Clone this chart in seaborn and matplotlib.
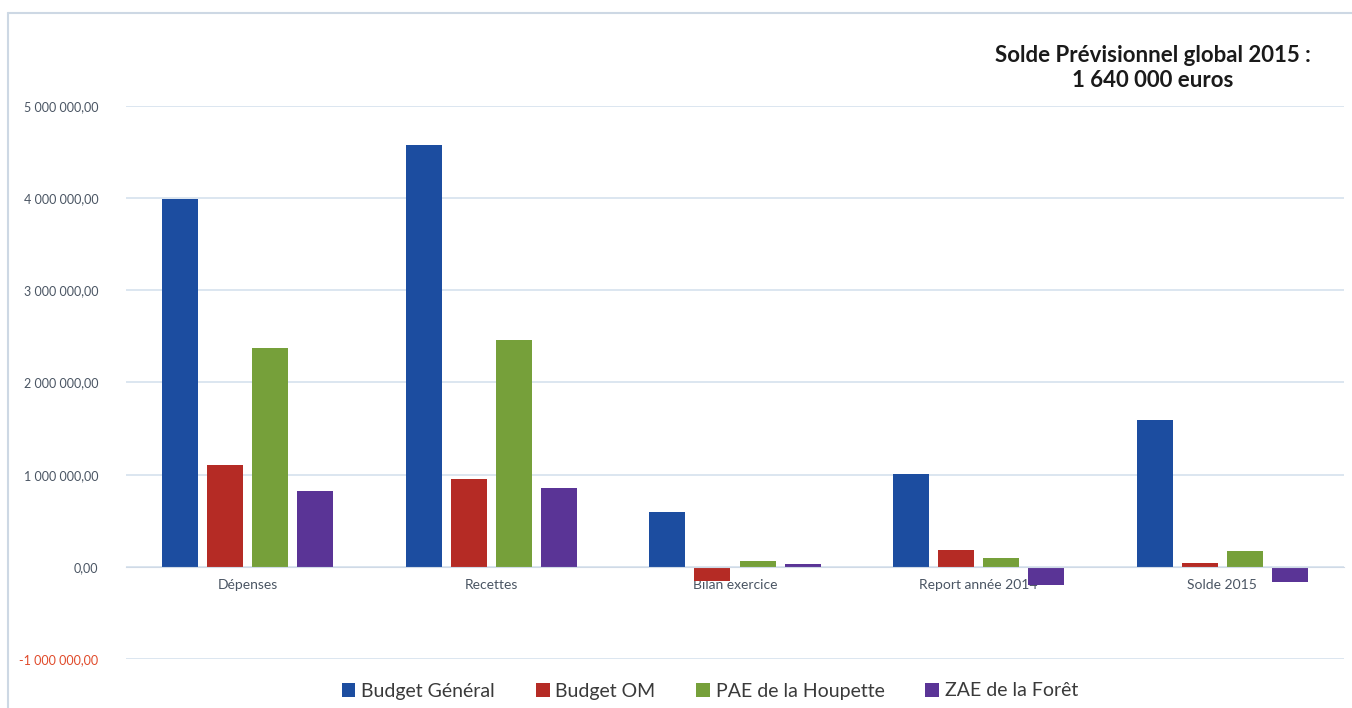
import pandas as pd
import matplotlib
matplotlib.use("Agg")
from matplotlib import pyplot as plt
from matplotlib.lines import Line2D
from matplotlib.ticker import FuncFormatter
import seaborn as sns

categories = ["Dépenses", "Recettes", "Bilan exercice", "Report année 2014", "Solde 2015"]
series = ["Budget Général", "Budget OM", "PAE de la Houpette", "ZAE de la Forêt"]
budget_general = [3990000, 4580000, 600000, 1010000, 1595000]
budget_om = [1110000, 955000, -150000, 185000, 40000]
pae_houpette = [2375000, 2460000, 65000, 100000, 170000]
zae_foret = [820000, 860000, 30000, -195000, -160000]
colors = ["#1c4da0", "#b52b25", "#76a03a", "#5a3496"]

rows = []
for s, vals in zip(series, [budget_general, budget_om, pae_houpette, zae_foret]):
    for c, v in zip(categories, vals):
        rows.append({"cat": c, "serie": s, "val": v})
df = pd.DataFrame(rows)

sns.set_style("white")
plt.rcParams["font.family"] = ["Lato", "DejaVu Sans"]

fig = plt.figure(figsize=(13.52, 7.08), dpi=100)
ax = fig.add_axes([126 / 1352, 1 - 659 / 708, (1344 - 126) / 1352, (659 - 106) / 708])

sns.barplot(data=df, x="cat", y="val", hue="serie", hue_order=series,
            palette=colors, width=0.74, gap=0.2, saturation=1,
            linewidth=0, ax=ax, legend=True)

ax.set_ylim(-1000000, 5000000)
ax.set_xlim(-0.5, 4.5)
ax.set_yticks(range(-1000000, 5000001, 1000000))
ax.yaxis.grid(True, color="#d6e2ee", linewidth=1.2)
ax.set_axisbelow(True)
for sp in ["top", "right", "left"]:
    ax.spines[sp].set_visible(False)
ax.spines["bottom"].set_position(("data", 0))
ax.spines["bottom"].set_color("#d0dae6")
ax.set_xlabel("")
ax.set_ylabel("")


def fmt(v, pos):
    s = f"{abs(v):,.2f}".replace(",", " ").replace(".", ",")
    return ("-" if v < 0 else "") + s


ax.yaxis.set_major_formatter(FuncFormatter(fmt))
ax.tick_params(axis="y", length=0, pad=20, labelsize=9, labelcolor="#4a5563")
ax.tick_params(axis="x", length=0, pad=9, labelsize=10, labelcolor="#4a5563")
for lab in ax.get_yticklabels():
    if lab.get_text().startswith("-"):
        lab.set_color("#e04a2a")

handles, labels = ax.get_legend_handles_labels()
ax.get_legend().remove()
fig.legend(handles, labels, loc="center", bbox_to_anchor=(710 / 1352, 1 - 691 / 708),
           ncol=4, frameon=False, fontsize=14, handlelength=0.7, handleheight=0.7,
           handletextpad=0.3, columnspacing=2.1, labelcolor="#3a3a3a")

fig.text(1153 / 1352, 1 - 68 / 708, "Solde Prévisionnel global 2015 :\n1 640 000 euros",
         ha="center", va="center", fontsize=16, fontweight="bold",
         color="#1a1a1a", linespacing=1.25)

fig.add_artist(Line2D([8 / 1352, 1], [1 - 13 / 708, 1 - 13 / 708],
                      transform=fig.transFigure, color="#cdd8e4", linewidth=1.5))
fig.add_artist(Line2D([8 / 1352, 8 / 1352], [0, 1 - 13 / 708],
                      transform=fig.transFigure, color="#cdd8e4", linewidth=1.5))

fig.savefig("out.png", dpi=100, facecolor="white")
